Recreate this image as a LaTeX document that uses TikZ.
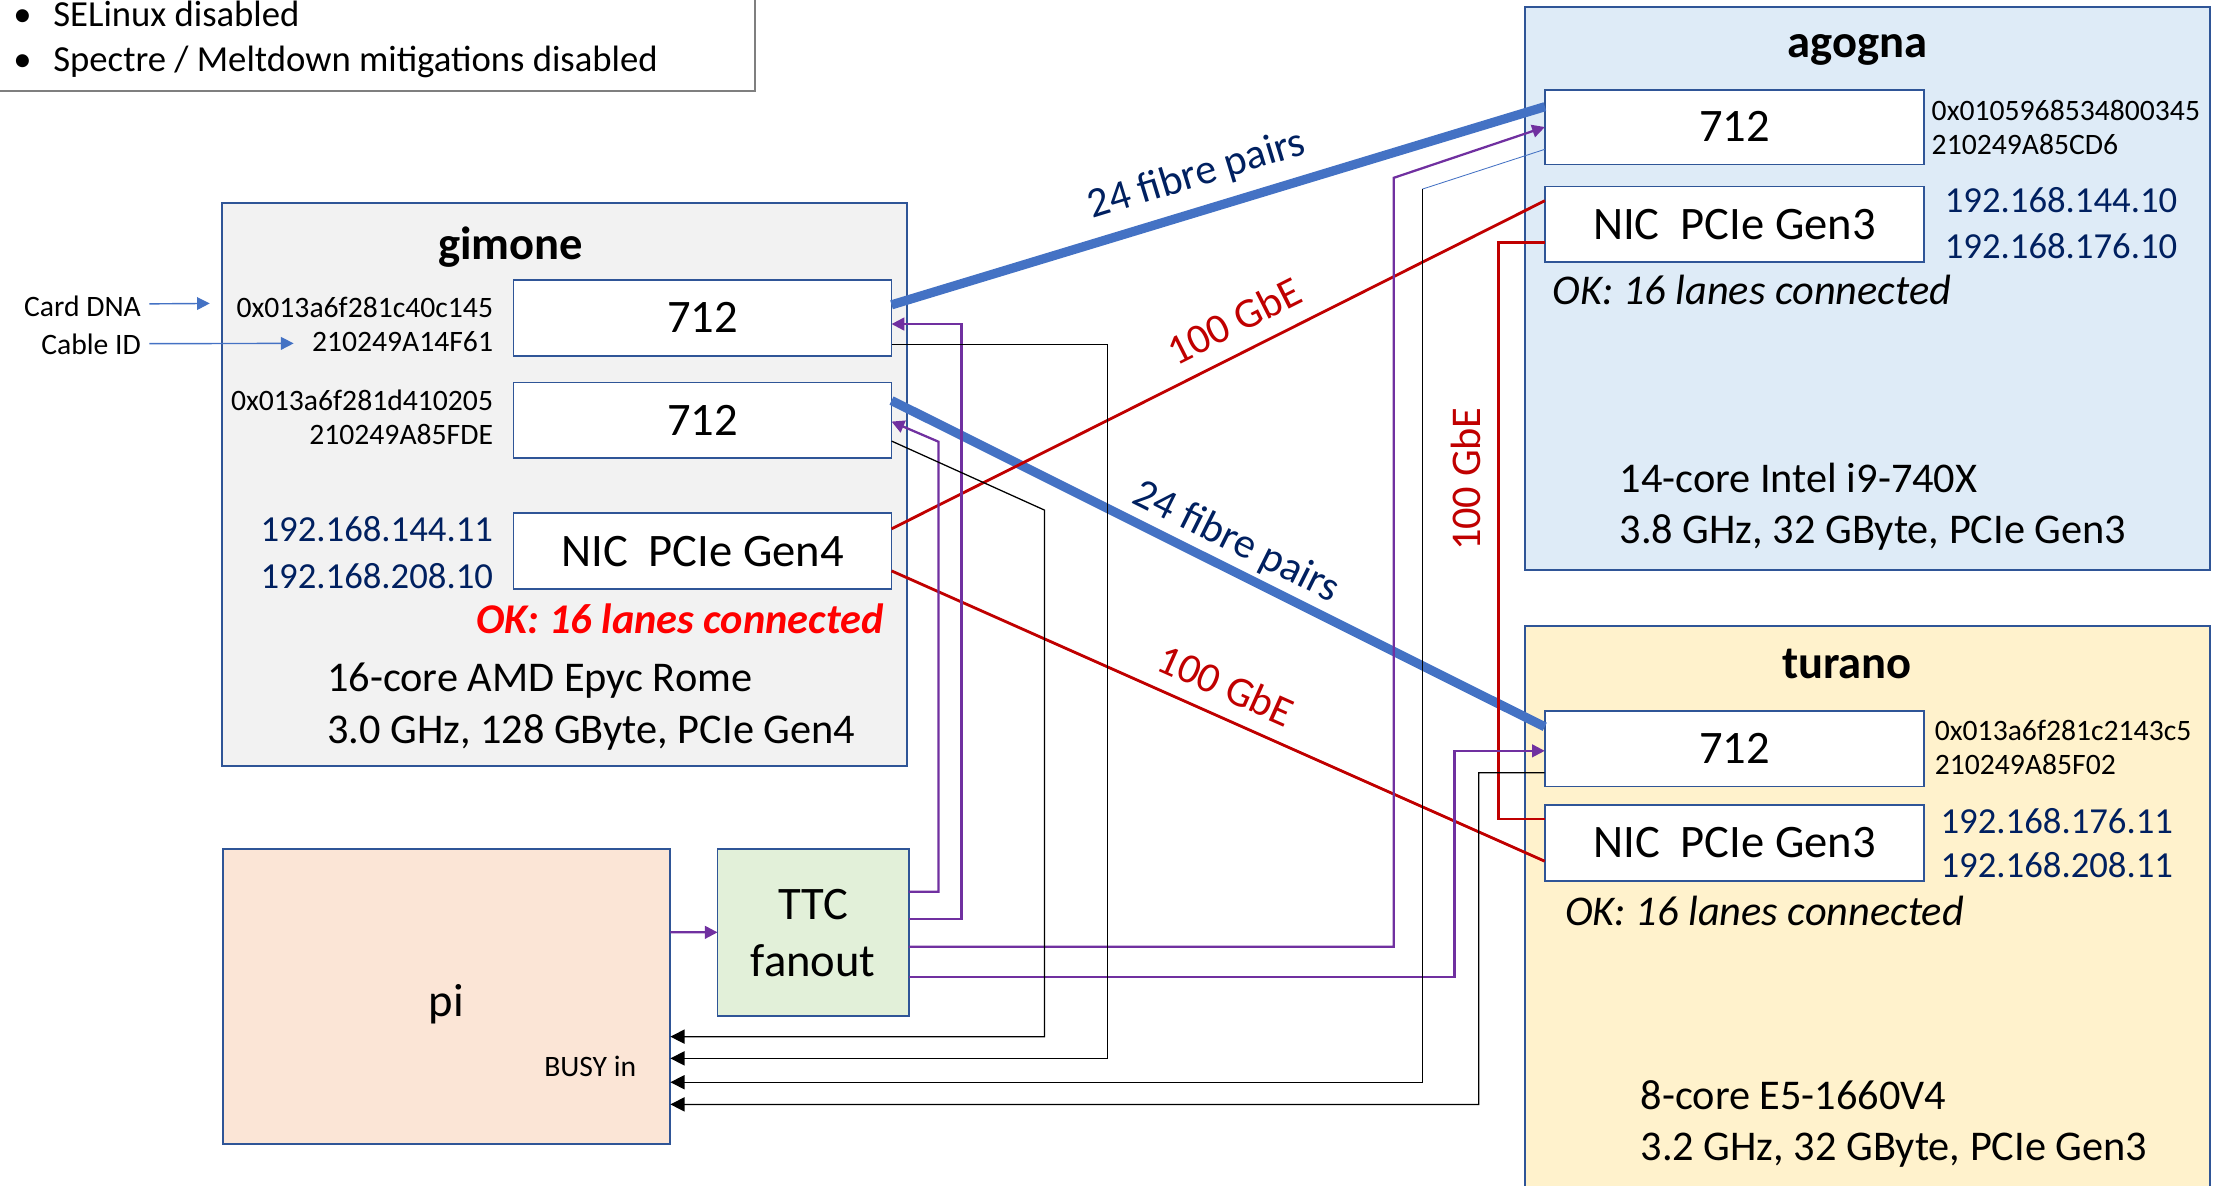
\documentclass[tikz,border=0pt]{standalone}
\usepackage{fontspec}
\setmainfont{Carlito}
\usetikzlibrary{arrows.meta}
\definecolor{bxb}{HTML}{2F5597}
\definecolor{gfill}{HTML}{F2F2F2}
\definecolor{afill}{HTML}{DEEBF7}
\definecolor{tfill}{HTML}{FFF2CC}
\definecolor{pfill}{HTML}{FBE5D6}
\definecolor{cfill}{HTML}{E2F0D9}
\definecolor{fibc}{HTML}{4472C4}
\definecolor{ethc}{HTML}{C00000}
\definecolor{ttcc}{HTML}{7030A0}
\definecolor{navy}{HTML}{002060}
\definecolor{okred}{HTML}{FF0000}
\definecolor{notec}{HTML}{7F7F7F}
\begin{document}
\begin{tikzpicture}[x=1pt,y=-1pt,
  every node/.style={inner sep=0pt, outer sep=0pt},
  tA/.style={font=\fontsize{33}{36}\selectfont, text height=21.2pt, text depth=0pt},
  tB/.style={font=\fontsize{30}{33}\selectfont, text height=19.3pt, text depth=0pt},
  tC/.style={font=\fontsize{26}{29}\selectfont, text height=16.7pt, text depth=0pt},
  tD/.style={font=\fontsize{21}{24}\selectfont, text height=13.5pt, text depth=0pt},
  ttl/.style={font=\bfseries\fontsize{33}{36}\selectfont},
  host/.style={draw=bxb, line width=1.3pt, anchor=north west},
  card/.style={draw=bxb, fill=white, line width=1.3pt, tA},
  fib/.style={line width=6.5pt, draw=fibc},
  eth/.style={line width=2pt, draw=ethc},
  ttcw/.style={line width=1.6pt, draw=ttcc},
  ttca/.style={ttcw, -{Triangle[length=9pt,width=9pt]}},
  busy/.style={line width=0.9pt, draw=black, -{Triangle[length=10pt,width=10pt]}},
  idarr/.style={line width=1pt, draw=fibc, -{Triangle[length=9pt,width=9pt]}}
]
\useasboundingbox (0,0) rectangle (1568,840);
\clip (0,0) rectangle (1568,840);

% note box
\node[draw=notec, line width=1.3pt, anchor=south east, minimum width=545pt, minimum height=70pt] (note) at (535,64.3) {};
\node[tC] (b1) at (16,10.6) {\textbullet};
\node[tC] (b2) at (16,42.5) {\textbullet};
\node[tC, anchor=west] (n1) at (37.8,10.6) {SELinux disabled};
\node[tC, anchor=west] (n2) at (37.8,42.5) {Spectre / Meltdown mitigations disabled};

% hosts
\node[host, fill=gfill, minimum width=485pt, minimum height=399pt] (gimone) at (157.5,144) {};
\node[host, fill=afill, minimum width=485.4pt, minimum height=399pt] (agogna) at (1080.6,5) {};
\node[host, fill=tfill, minimum width=484.8pt, minimum height=420pt] (turano) at (1080.8,443.6) {};
\node[host, fill=pfill, minimum width=317pt, minimum height=209pt] (pi) at (158,601.8) {};
\node[host, fill=cfill, minimum width=135.4pt, minimum height=118.2pt] (ttc) at (508.4,601.8) {};

% titles
\node[ttl, anchor=base] (tg) at (361.7,184.2) {gimone};
\node[ttl, anchor=base] (ta) at (1316,40.7) {agogna};
\node[ttl, anchor=base] (tt) at (1308.7,480.7) {turano};

% cards
\node[card, minimum width=267.9pt, minimum height=53.8pt] (g712a) at (497.75,225.3) {712};
\node[card, minimum width=267.9pt, minimum height=53.4pt] (g712b) at (497.75,297.7) {712};
\node[card, minimum width=267.9pt, minimum height=53.8pt] (gnic) at (497.75,390.6) {NIC\ \ PCIe Gen4};
\node[card, minimum width=268.6pt, minimum height=53pt] (a712) at (1228.9,90) {712};
\node[card, minimum width=268.6pt, minimum height=53.3pt] (anic) at (1228.9,158.85) {NIC\ \ PCIe Gen3};
\node[card, minimum width=268.9pt, minimum height=53.3pt] (t712) at (1228.95,530.65) {712};
\node[card, minimum width=268.9pt, minimum height=53.5pt] (tnic) at (1228.95,597.25) {NIC\ \ PCIe Gen3};

% gimone texts
\node[tD, anchor=east] (cardlbl) at (99.8,217.3) {Card DNA};
\node[tD, anchor=east] (cablelbl) at (99.8,244.5) {Cable ID};
\node[tD, anchor=east] (hga1) at (349.3,218) {0x013a6f281c40c145};
\node[tD, anchor=east] (hga2) at (349.3,242) {210249A14F61};
\node[tD, anchor=east] (hgb1) at (349.3,284) {0x013a6f281d410205};
\node[tD, anchor=east] (hgb2) at (349.3,308.2) {210249A85FDE};
\node[tC, anchor=east, text=navy] (ipg1) at (349.3,375.5) {192.168.144.11};
\node[tC, anchor=east, text=navy] (ipg2) at (349.3,408.6) {192.168.208.10};
\node[tB, anchor=east, text=okred, font=\bfseries\itshape\fontsize{30}{33}\selectfont] (okg) at (626,439.3) {OK: 16 lanes connected};
\node[tB, anchor=west] (sg1) at (231.8,480.6) {16-core AMD Epyc Rome};
\node[tB, anchor=west] (sg2) at (231.8,517.3) {3.0 GHz, 128 GByte, PCIe Gen4};

\draw[idarr] ([xshift=6pt,yshift=2pt]cardlbl.east) -- ([xshift=-19pt]hga1.west |- 0,215);
\draw[idarr] ([xshift=6pt,yshift=1pt]cablelbl.east) -- ([xshift=-13pt]hga2.west |- 0,243.3);

% agogna texts
\node[tD, anchor=west] (haa1) at (1368.7,78.6) {0x0105968534800345};
\node[tD, anchor=west] (haa2) at (1368.7,102.5) {210249A85CD6};
\node[tC, anchor=west, text=navy] (ipa1) at (1378,142.4) {192.168.144.10};
\node[tC, anchor=west, text=navy] (ipa2) at (1378,174.9) {192.168.176.10};
\node[tB, anchor=west, font=\itshape\fontsize{30}{33}\selectfont] (oka) at (1100,206) {OK: 16 lanes connected};
\node[tB, anchor=west] (sa1) at (1147.6,339) {14-core Intel i9-740X};
\node[tB, anchor=west] (sa2) at (1147.6,375.5) {3.8 GHz, 32 GByte, PCIe Gen3};

% turano texts
\node[tD, anchor=west] (hta1) at (1370.9,517.7) {0x013a6f281c2143c5};
\node[tD, anchor=west] (hta2) at (1370.9,542) {210249A85F02};
\node[tC, anchor=west, text=navy] (ipt1) at (1375,582.5) {192.168.176.11};
\node[tC, anchor=west, text=navy] (ipt2) at (1375,613.4) {192.168.208.11};
\node[tB, anchor=west, font=\itshape\fontsize{30}{33}\selectfont] (okt) at (1109,646) {OK: 16 lanes connected};
\node[tB, anchor=west] (st1) at (1162.5,776.6) {8-core E5-1660V4};
\node[tB, anchor=west] (st2) at (1162.5,812.4) {3.2 GHz, 32 GByte, PCIe Gen3};

% pi and ttc texts
\node[tA] (pilbl) at (316.4,709.7) {pi};
\node[tD, anchor=east] (busylbl) at (450.8,755.8) {BUSY in};
\node[tA] (ttc1) at (576.1,641) {TTC};
\node[tA] (ttc2) at (576.1,681.4) {fanout};

% fibres
\draw[fib] ([yshift=9.3pt]g712a.east) -- ([yshift=14.4pt]a712.west);
\draw[fib] ([yshift=13.9pt]g712b.east) -- ([yshift=15.65pt]t712.west);

% ethernet
\draw[eth] ([yshift=15.9pt]gnic.east) -- ([yshift=16.65pt]anic.west);
\draw[eth] ([yshift=-13.9pt]gnic.east) -- ([yshift=-12.95pt]tnic.west);
\draw[eth] ([yshift=-12.85pt]anic.west) -| (1061.5,580.3) -- ([yshift=16.95pt]tnic.west);

% TTC
\draw[ttca] ([yshift=45.7pt]pi.east) -- ([yshift=0.3pt]ttc.west);
\draw[ttca] ([yshift=29.1pt]ttc.east) -| (665,313) -- ([yshift=-1pt]g712b.east);
\draw[ttca] ([yshift=9.5pt]ttc.east) -| (681.2,229.6) -- ([yshift=-4.3pt]g712a.east);
\draw[ttca] ([yshift=-9.9pt]ttc.east) -| (987.5,126) -- (a712.west);
\draw[ttca] ([yshift=-31.1pt]ttc.east) -| (1030.5,532) -- ([yshift=-1.35pt]t712.west);

% BUSY
\draw[busy] ([yshift=-14.8pt]g712b.east) -- (740,361.4) |- ([yshift=-28.2pt]pi.east);
\draw[busy] ([yshift=-18.7pt]g712a.east) -- (784.5,244) |- ([yshift=-43.6pt]pi.east);
\draw[line width=0.6pt, draw=fibc] ([yshift=-15.8pt]a712.west) -- (1007.8,134) coordinate (abend);
\draw[busy] (abend) |- ([yshift=-60.5pt]pi.east);
\draw[busy] ([yshift=-16.95pt]t712.west) -- (1047.8,547.6) |- ([yshift=-76.2pt]pi.east);

% labels
\node[tB, text=navy, rotate=17] (lf1) at (847.5,122.6) {24 fibre pairs};
\node[tB, text=ethc, rotate=26.8] (le1) at (874.5,228) {100 GbE};
\node[tB, text=navy, rotate=-26.5] (lf2) at (876.6,382.8) {24 fibre pairs};
\node[tB, text=ethc, rotate=-24] (le2) at (868.4,485.9) {100 GbE};
\node[tB, text=ethc, rotate=90] (le3) at (1039,339.5) {100 GbE};
\end{tikzpicture}
\end{document}
